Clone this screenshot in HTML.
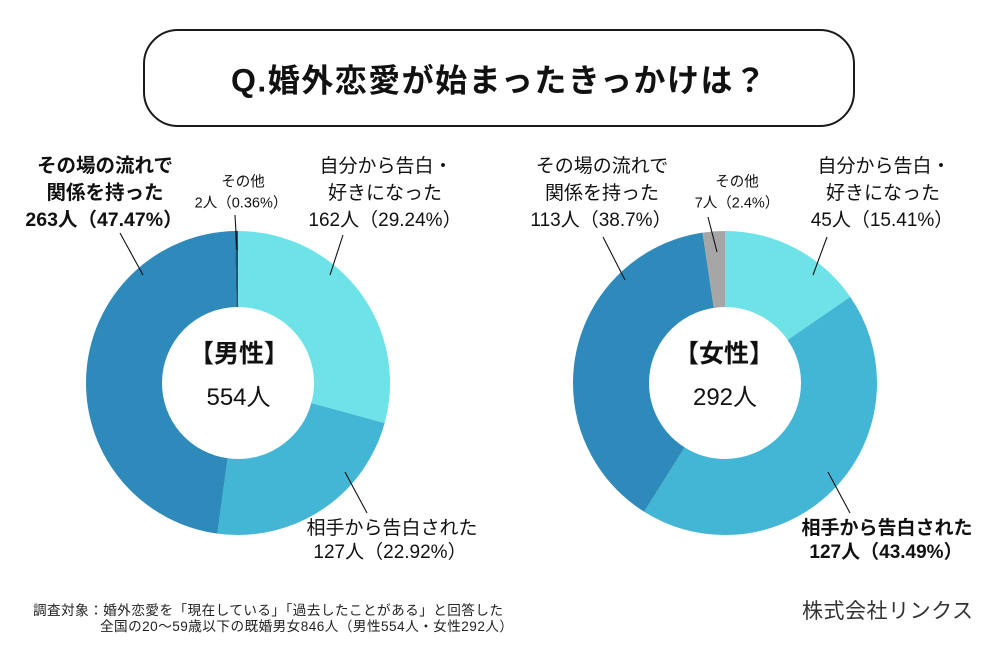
<!DOCTYPE html>
<html>
<head>
<meta charset="utf-8">
<style>
  html,body{margin:0;padding:0;background:#fff;}
  svg{display:block;}
  text{font-family:"Liberation Sans","Noto Sans CJK JP",sans-serif;fill:#111;}
  .b{font-weight:bold;}
</style>
</head>
<body>
<svg width="1000" height="650" viewBox="0 0 1000 650" xmlns="http://www.w3.org/2000/svg">
  <rect x="0" y="0" width="1000" height="650" fill="#fff"/>

  <!-- Title box -->
  <rect x="144" y="30" width="710" height="96" rx="34" ry="34" fill="#fff" stroke="#1a1a1a" stroke-width="2"/>
  <text class="b" x="231" y="91.5" font-size="32" textLength="535" lengthAdjust="spacing">Q.婚外恋愛が始まったきっかけは？</text>

  <!-- Male donut -->
  <g transform="rotate(-90 238 383)" fill="none" stroke-width="76">
    <circle cx="238" cy="383" r="114" stroke="#6de3e8" stroke-dasharray="209.44 716.28" stroke-dashoffset="0"/>
    <circle cx="238" cy="383" r="114" stroke="#43b6d6" stroke-dasharray="164.17 716.28" stroke-dashoffset="-209.44"/>
    <circle cx="238" cy="383" r="114" stroke="#2e8aba" stroke-dasharray="340.02 716.28" stroke-dashoffset="-373.61"/>
    <circle cx="238" cy="383" r="114" stroke="#1d5578" stroke-dasharray="2.58 716.28" stroke-dashoffset="-713.63"/>
  </g>

  <!-- Female donut -->
  <g transform="rotate(-90 725 383)" fill="none" stroke-width="76">
    <circle cx="725" cy="383" r="114" stroke="#6de3e8" stroke-dasharray="110.38 716.28" stroke-dashoffset="0"/>
    <circle cx="725" cy="383" r="114" stroke="#43b6d6" stroke-dasharray="311.51 716.28" stroke-dashoffset="-110.38"/>
    <circle cx="725" cy="383" r="114" stroke="#2e8aba" stroke-dasharray="277.20 716.28" stroke-dashoffset="-421.89"/>
    <circle cx="725" cy="383" r="114" stroke="#a6a6a6" stroke-dasharray="17.19 716.28" stroke-dashoffset="-699.09"/>
  </g>

  <!-- Leader lines -->
  <g stroke="#111" stroke-width="1.1">
    <line x1="120" y1="233" x2="143" y2="275"/>
    <line x1="235" y1="215" x2="237" y2="250"/>
    <line x1="343" y1="235" x2="330" y2="275"/>
    <line x1="345" y1="472" x2="367" y2="513"/>
    <line x1="603" y1="237" x2="625" y2="280"/>
    <line x1="708" y1="217" x2="717" y2="252"/>
    <line x1="827" y1="237" x2="813" y2="275"/>
    <line x1="828" y1="472" x2="850" y2="513"/>
  </g>

  <!-- Male labels -->
  <g text-anchor="middle">
    <text class="b" x="105" y="172" font-size="19.5">その場の流れで</text>
    <text class="b" x="105" y="199" font-size="19.5">関係を持った</text>
    <text class="b" x="104" y="226" font-size="19.5">263人（47.47%）</text>

    <text x="243" y="186.5" font-size="14.5">その他</text>
    <text x="241" y="207.5" font-size="14.5">2人（0.36%）</text>

    <text x="386" y="172" font-size="19">自分から告白・</text>
    <text x="385" y="199" font-size="19">好きになった</text>
    <text x="385" y="226" font-size="19">162人（29.24%）</text>

    <text x="392" y="534" font-size="19">相手から告白された</text>
    <text x="390" y="558" font-size="19">127人（22.92%）</text>

    <text class="b" x="239" y="362" font-size="25">【男性】</text>
    <text x="238.5" y="405" font-size="24">554人</text>
  </g>

  <!-- Female labels -->
  <g text-anchor="middle">
    <text x="602" y="172" font-size="19">その場の流れで</text>
    <text x="602" y="199" font-size="19">関係を持った</text>
    <text x="601" y="226" font-size="19">113人（38.7%）</text>

    <text x="737" y="186.5" font-size="14.5">その他</text>
    <text x="737" y="207.5" font-size="14.5">7人（2.4%）</text>

    <text x="884" y="172" font-size="19">自分から告白・</text>
    <text x="883" y="199" font-size="19">好きになった</text>
    <text x="882" y="226" font-size="19">45人（15.41%）</text>

    <text class="b" x="887" y="534" font-size="19">相手から告白された</text>
    <text class="b" x="886" y="558" font-size="19">127人（43.49%）</text>

    <text class="b" x="724" y="362" font-size="25">【女性】</text>
    <text x="725" y="405" font-size="24">292人</text>
  </g>

  <!-- Footer -->
  <text x="33" y="615" font-size="13.6" style="fill:#222" textLength="470" lengthAdjust="spacing">調査対象：婚外恋愛を「現在している」「過去したことがある」と回答した</text>
  <text x="100" y="631" font-size="13.6" style="fill:#222" textLength="413" lengthAdjust="spacing">全国の20〜59歳以下の既婚男女846人（男性554人・女性292人）</text>

  <text x="802" y="618" font-size="21" style="fill:#333" textLength="171" lengthAdjust="spacing">株式会社リンクス</text>
</svg>
</body>
</html>
